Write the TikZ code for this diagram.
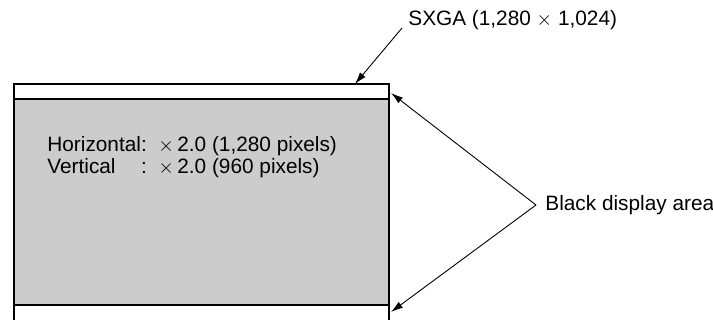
\documentclass[tikz,border=0pt]{standalone}
\usepackage{fontspec}
\setmainfont{Liberation Sans}
\usetikzlibrary{arrows.meta}

\tikzset{
    frame/.style={line width=1.3pt},
    pointer/.style={line width=0.45pt, -{Latex[length=6pt,width=3.6pt]}},
    lbl/.style={inner sep=0pt, font=\fontsize{10.4}{11}\selectfont}
}

\begin{document}
\begin{tikzpicture}[x=0.5pt, y=-0.5pt]

    % Fix the page to the size of the reference
    \useasboundingbox (0,0) rectangle (713,320);
    \clip (0,0) rectangle (713,320);

    % Corners of the screen and of the grey picture area
    \coordinate (TL) at (14,84);
    \coordinate (BR) at (389,335);
    \coordinate (GL) at (14,99);
    \coordinate (GR) at (389,305);

    % Grey picture area
    \fill[black!20] (GL) rectangle (GR);

    % Outer screen and the two borders of the grey area
    \draw[frame] (TL) rectangle (BR);
    \draw[frame] (GL) -- (GL -| GR);
    \draw[frame] (GL |- GR) -- (GR);

    % Scaling text inside the grey area
    \node[lbl, anchor=west] (scaling) at (47,158) {%
        \begin{tabular}{@{}l@{}l@{}}
        Horizontal & :\ \ $\times$\,2.0 (1,280 pixels)\\
        Vertical   & :\ \ $\times$\,2.0 (960 pixels)
        \end{tabular}};

    % SXGA label with its pointer to the top edge
    \node[lbl, anchor=west] (sxga) at (408,20) {SXGA (1,280 $\times$ 1,024)};
    \coordinate (sxgafoot) at (402,28);
    \coordinate (sxgatip) at (355,84);
    \draw[pointer] (sxgafoot) -- (sxgatip);

    % Black display area label with two pointers
    \node[lbl, anchor=west] (black) at (545,205) {Black display area};
    \coordinate (apex) at (536,205);
    \coordinate (uptip) at (391,93);
    \coordinate (lowtip) at (391,312);
    \draw[pointer] (apex) -- (uptip);
    \draw[pointer] (apex) -- (lowtip);

\end{tikzpicture}
\end{document}
